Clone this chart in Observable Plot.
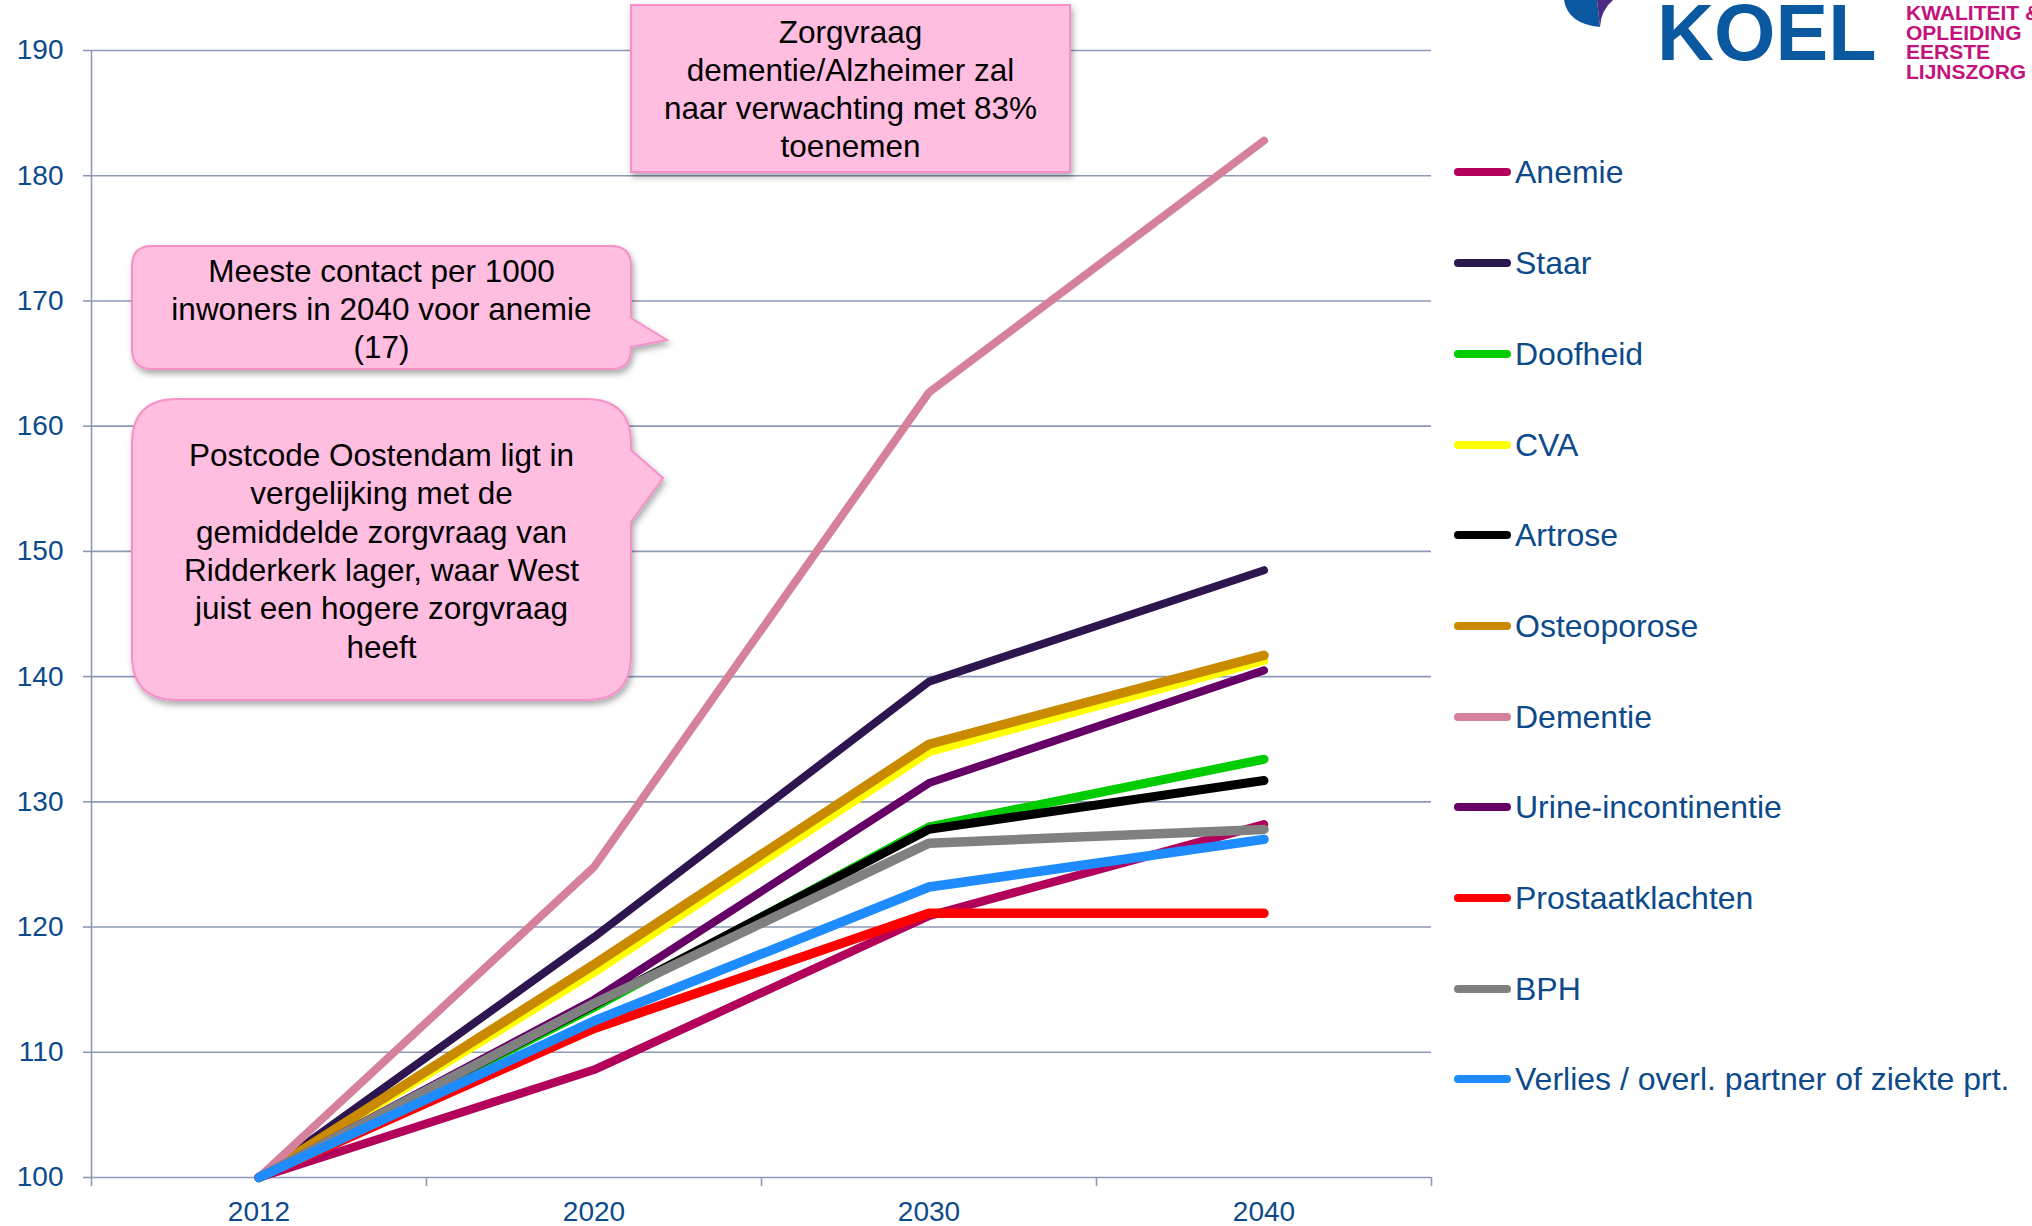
<!DOCTYPE html>
<html>
<head>
<meta charset="utf-8">
<script src="https://cdn.jsdelivr.net/npm/d3@7"></script>
<script src="https://cdn.jsdelivr.net/npm/@observablehq/plot@0.6"></script>
<style>
  html, body { margin: 0; padding: 0; background: #ffffff; }
  #page { position: relative; width: 2032px; height: 1226px; overflow: hidden; background: #ffffff;
          font-family: "Liberation Sans", Arial, sans-serif; }
  #chart { position: absolute; left: 0; top: 0; }
  #shapes { position: absolute; left: 0; top: 0; }
  .note { position: absolute; text-align: center; color: #000; font-size: 31.5px; white-space: nowrap; }
  .legend-row { position: absolute; left: 1454px; height: 40px; display: flex; align-items: center;
                font-size: 32px; line-height: 1; color: #0D4A8A; white-space: nowrap; }
  .swatch { width: 57px; height: 8px; border-radius: 4px; margin-right: 4px; }
  #koel { position: absolute; left: 1657px; top: 0px; font-size: 79px; line-height: 65px; font-weight: bold;
          color: #0A58A0; }
  #koel-sub { position: absolute; left: 1906px; top: 3px; font-size: 21px; line-height: 19.5px; font-weight: bold;
              color: #C4127C; white-space: nowrap; }
</style>
</head>
<body>
<div id="page">
  <div id="chart"></div>
  <svg id="shapes" width="2032" height="1226">
    <defs>
      <filter id="sh" x="-10%" y="-10%" width="130%" height="140%">
        <feDropShadow dx="2" dy="4" stdDeviation="3" flood-color="#000" flood-opacity="0.33"/>
      </filter>
    </defs>
    <rect x="631" y="5" width="439" height="167" fill="#FFBDE0" stroke="#F590C8" stroke-width="2" filter="url(#sh)"/>
    <path d="M152,246 H611 Q631,246 631,266 V318 L667,340 L631,347 V349 Q631,369 611,369 H152 Q132,369 132,349 V266 Q132,246 152,246 Z"
          fill="#FFBDE0" stroke="#F590C8" stroke-width="2" filter="url(#sh)"/>
    <path d="M177,399 H586 Q631,399 631,444 V450 L663,478 L631,522 V655 Q631,700 586,700 H177 Q132,700 132,655 V444 Q132,399 177,399 Z"
          fill="#FFBDE0" stroke="#F590C8" stroke-width="2" filter="url(#sh)"/>
    <line x1="1124" y1="71" x2="1124" y2="191" stroke="#FF8AC8" stroke-width="1.6" filter="url(#sh)"/>
    <path d="M1564,0 Q1568,24 1600,27 L1597,0 Z" fill="#0A58A0"/>
    <path d="M1597,0 L1613,0 Q1601,10 1600,27 Z" fill="#4B2A82"/>
  </svg>
  <div class="note" style="left:631px; width:439px; top:13px; line-height:38px;">Zorgvraag<br>dementie/Alzheimer zal<br>naar verwachting met 83%<br>toenemen</div>
  <div class="note" style="left:132px; width:499px; top:252px; line-height:38px;">Meeste contact per 1000<br>inwoners in 2040 voor anemie<br>(17)</div>
  <div class="note" style="left:132px; width:499px; top:435.8px; line-height:38.4px;">Postcode Oostendam ligt in<br>vergelijking met de<br>gemiddelde zorgvraag van<br>Ridderkerk lager, waar West<br>juist een hogere zorgvraag<br>heeft</div>
  <div id="legend"></div>
  <div id="koel">KOEL</div>
  <div id="koel-sub">KWALITEIT &amp;<br>OPLEIDING<br>EERSTE<br>LIJNSZORG</div>
</div>
<script>
// ---- Data ----
const years = ["2012", "2020", "2030", "2040"];
const yTicks = [100, 110, 120, 130, 140, 150, 160, 170, 180, 190];

const seriesNames = ["Anemie", "Staar", "Doofheid", "CVA", "Artrose", "Osteoporose", "Dementie",
  "Urine-incontinentie", "Prostaatklachten", "BPH", "Verlies / overl. partner of ziekte prt."];

const anemie       = [100, 108.6, 120.9, 128.2];
const staar        = [100, 119.2, 139.6, 148.5];
const doofheid     = [100, 113.6, 128.0, 133.4];
const cva          = [100, 116.4, 134.0, 141.3];
const artrose      = [100, 113.8, 127.8, 131.7];
const osteoporose  = [100, 117.0, 134.6, 141.7];
const dementie     = [100, 124.8, 162.7, 182.8];
const urine        = [100, 114.2, 131.5, 140.5];
const prostaat     = [100, 111.9, 121.1, 121.1];
const bph          = [100, 113.9, 126.7, 127.8];
const verlies      = [100, 112.5, 123.2, 127.0];

const seriesValues = [anemie, staar, doofheid, cva, artrose, osteoporose, dementie, urine, prostaat, bph, verlies];

// ---- Styles ----
const seriesColors = ["#B3005A", "#2D1550", "#00CC00", "#FFFF00", "#000000", "#C98A00", "#D6819B",
  "#660066", "#FF0000", "#808080", "#1E8CFF"];
const seriesWidths = [8.5, 8, 9, 9, 9, 9.5, 8, 8, 9.5, 9.5, 9.5];
const gridColor = "#8D99B6";
const textColor = "#0D4A8A";

// ---- Build table ----
const rows = seriesNames.flatMap((name, s) =>
  years.map((year, i) => ({name, year, slot: i + 0.5, value: seriesValues[s][i]})));

const chart = Plot.plot({
  width: 1445,
  height: 1226,
  marginLeft: 91,
  marginRight: 14,
  marginTop: 50,
  marginBottom: 49,
  style: {fontFamily: "'Liberation Sans', Arial, sans-serif", fontSize: "28px", background: "transparent", overflow: "visible"},
  x: {domain: [0, years.length]},
  y: {domain: [100, 190]},
  marks: [
    Plot.gridY(yTicks, {stroke: gridColor, strokeOpacity: 1, strokeWidth: 1.6}),
    Plot.ruleX([0], {stroke: gridColor, strokeWidth: 1.6}),
    Plot.axisY(yTicks, {tickSize: 8, tickPadding: 20, stroke: gridColor, strokeWidth: 1.6, fill: textColor, fontSize: 28, label: null}),
    Plot.axisX(d3.range(years.length + 1), {tickSize: 9, tickFormat: () => "", stroke: gridColor, strokeWidth: 1.6, label: null}),
    Plot.axisX(years.map((_, i) => i + 0.5), {tickSize: 0, tickPadding: 24, tickFormat: d => years[Math.floor(d)], fill: textColor, fontSize: 28, label: null}),
    ...seriesNames.map((name, s) => Plot.line(rows.filter(r => r.name === name), {
      x: "slot", y: "value", stroke: seriesColors[s], strokeWidth: seriesWidths[s],
      strokeLinecap: "round", strokeLinejoin: "round"
    }))
  ]
});
document.getElementById("chart").appendChild(chart);

// ---- Legend ----
const legend = document.getElementById("legend");
seriesNames.forEach((name, s) => {
  const row = document.createElement("div");
  row.className = "legend-row";
  row.style.top = (172.4 + s * 90.7 - 20) + "px";
  const sw = document.createElement("div");
  sw.className = "swatch";
  sw.style.background = seriesColors[s];
  const label = document.createElement("span");
  label.textContent = name;
  row.appendChild(sw);
  row.appendChild(label);
  legend.appendChild(row);
});
</script>
</body>
</html>
